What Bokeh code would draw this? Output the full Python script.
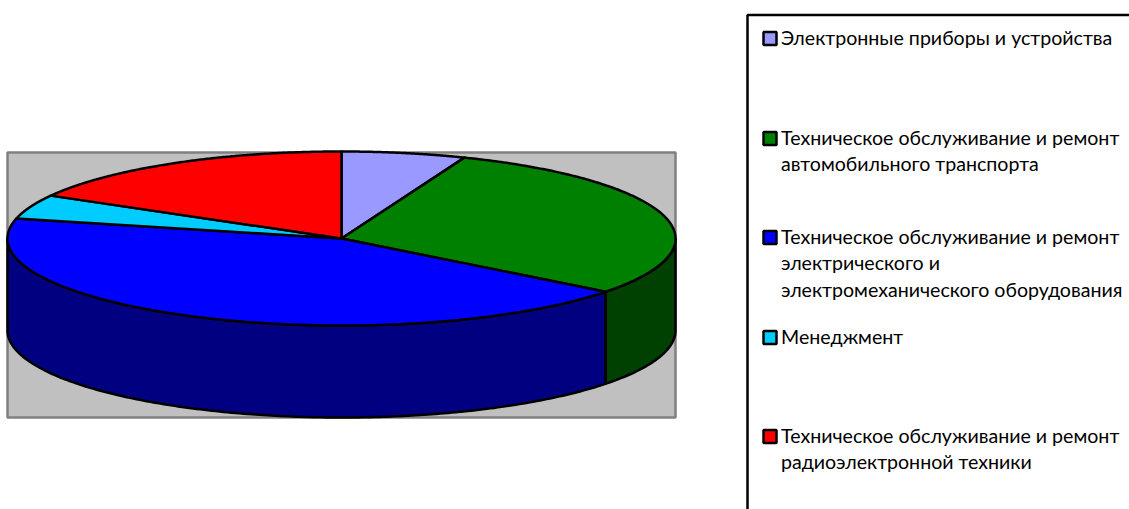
import numpy as np
from bokeh.plotting import figure
from bokeh.models import Range1d
from bokeh.core.properties import value
from bokeh.embed import file_html
from bokeh.resources import INLINE

categories = ["Электронные приборы и устройства",
              "Техническое обслуживание и ремонт\nавтомобильного транспорта",
              "Техническое обслуживание и ремонт\nэлектрического и\nэлектромеханического оборудования",
              "Менеджмент",
              "Техническое обслуживание и ремонт\nрадиоэлектронной техники"]
shares = [6.0, 29.5, 43.2, 4.5, 16.8]
top_colors = ["#9999FF", "#008000", "#0000FF", "#00CCFF", "#FF0000"]
side_colors = ["#4C4C80", "#004000", "#000080", "#006680", "#800000"]
legend_first_line_y = [38, 138, 237, 337, 436]

CX, CY, RX, RY, DEPTH = 341, 238, 334, 87, 92
LINE_H = 26.5

p = figure(width=1129, height=509, output_backend="svg", toolbar_location=None,
           x_range=Range1d(0, 1129), y_range=Range1d(509, 0),
           x_axis_type=None, y_axis_type=None, min_border=0, outline_line_color=None)
p.grid.visible = False

# plot area
p.quad(left=[CX - RX], right=[CX + RX], top=[152], bottom=[417],
       fill_color="#C0C0C0", line_color="#808080", line_width=2.5)

def ell(t):
    return CX + RX * np.sin(t), CY - RY * np.cos(t)

edges = np.cumsum([0] + shares) / sum(shares) * 2 * np.pi

# walls: only the front half of the rim is visible
xs, ys, fills = [], [], []
for a, b, c in zip(edges[:-1], edges[1:], side_colors):
    lo, hi = max(a, np.pi / 2), min(b, 3 * np.pi / 2)
    if lo >= hi:
        continue
    t = np.linspace(lo, hi, 200)
    x, y = ell(t)
    xs.append(np.r_[x, x[::-1]])
    ys.append(np.r_[y, y[::-1] + DEPTH])
    fills.append(c)
p.patches(xs, ys, fill_color=fills, line_color="black", line_width=2.5, line_join="round")

# top faces
xs, ys = [], []
for a, b in zip(edges[:-1], edges[1:]):
    t = np.linspace(a, b, 200)
    x, y = ell(t)
    xs.append(np.r_[CX, x])
    ys.append(np.r_[CY, y])
p.patches(xs, ys, fill_color=top_colors, line_color="black", line_width=2.5, line_join="round")

# legend
p.line([747, 747, 1129], [509, 14.5, 14.5], line_color="black", line_width=2.5)
p.quad(left=[763] * 5, right=[776] * 5,
       top=[y - 6.5 for y in legend_first_line_y], bottom=[y + 6.5 for y in legend_first_line_y],
       fill_color=top_colors, line_color="black", line_width=2.5)
tx, ty, tt = [], [], []
for name, y in zip(categories, legend_first_line_y):
    for i, line in enumerate(name.split("\n")):
        tx.append(780.5); ty.append(y - 1.5 + i * LINE_H); tt.append(line)
p.text(tx, ty, text=tt, text_font=value("Lato"), text_font_size="19.6px",
       text_baseline="middle", text_align="left", text_color="black")

open("out.html", "w").write(file_html(p, INLINE))
